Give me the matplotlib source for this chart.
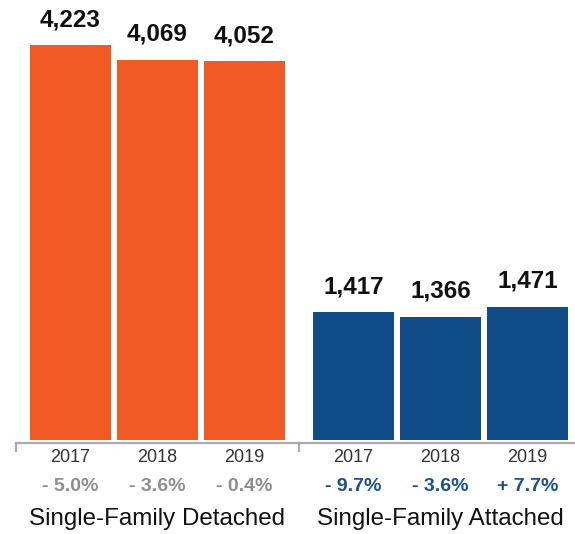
import matplotlib.pyplot as plt
from matplotlib.transforms import offset_copy

plt.rcParams['font.family'] = ['Liberation Sans', 'DejaVu Sans']

# Sales by segment, 2017-2019
years = ['2017', '2018', '2019']
groups = ['Single-Family Detached', 'Single-Family Attached']
detached = [4223, 4069, 4052]
attached = [1417, 1366, 1471]
detached_change = ['- 5.0%', '- 3.6%', '- 0.4%']
attached_change = ['- 9.7%', '- 3.6%', '+ 7.7%']

orange = '#F15A24'
blue = '#0F4C88'
series = [
    (detached, detached_change, orange, '#8E8E8E'),
    (attached, attached_change, blue, '#1B4F8E'),
]

group_step = 3.253
bar_w = 0.93

fig = plt.figure(figsize=(5.75, 5.34), dpi=100)
ax = fig.add_axes([0, 94 / 534, 1, 440 / 534])
ax.set_xlim(-0.81, 5.8)
ax.set_ylim(72, 4696)

xt = ax.get_xaxis_transform()
lift = offset_copy(ax.transData, fig=fig, y=19, units='dots')
for g, (vals, changes, color, chg_color) in enumerate(series):
    xs = [g * group_step + i for i in range(len(vals))]
    ax.bar(xs, vals, width=bar_w, color=color)
    for x, v, yr, ch in zip(xs, vals, years, changes):
        ax.text(x, v, f'{v:,}', ha='center', va='baseline', fontsize=17.5,
                fontweight='bold', color='#111111', transform=lift)
        ax.text(x, -0.039, yr, ha='center', va='center', fontsize=13,
                color='#333333', transform=xt)
        ax.text(x, -0.105, ch, ha='center', va='center', fontsize=14,
                fontweight='bold', color=chg_color, transform=xt)
    ax.text(xs[1], -0.179, groups[g], ha='center', va='center',
            fontsize=17.4, color='#111111', transform=xt)

# bottom axis line with separators between the groups
edges = [-(group_step - 2) / 2, 2 + (group_step - 2) / 2]
for s in ['top', 'left', 'right']:
    ax.spines[s].set_visible(False)
ax.spines['bottom'].set_position(('outward', 2.5))
ax.spines['bottom'].set_bounds(edges[0], 5.8)
ax.spines['bottom'].set_color('#AAAAAA')
ax.spines['bottom'].set_linewidth(1.6)
ax.set_xticks(edges)
ax.tick_params(axis='x', direction='out', length=6.5, width=1.6,
               color='#AAAAAA', labelbottom=False)
ax.set_yticks([])

fig.savefig('out.png', dpi=100)
